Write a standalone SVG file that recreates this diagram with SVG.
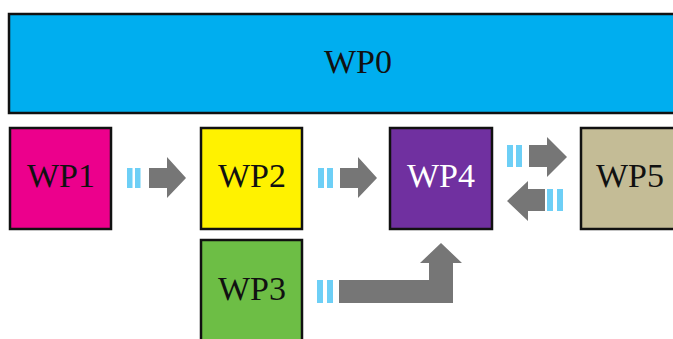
<svg xmlns="http://www.w3.org/2000/svg" width="673" height="339" viewBox="0 0 673 339">
<style>
.box{stroke:#111;stroke-width:2.5}
.lbl{font-family:"Liberation Serif","Times New Roman",serif;font-size:34px;text-anchor:middle;fill:#111}
.bar{fill:#6DCFF6}
.arr{fill:#767676}
</style>
<rect width="673" height="339" fill="#fff"/>
<g id="WP0"><rect class="box" x="9" y="14" width="670" height="99" fill="#00AEEF"/><text class="lbl" x="358" y="73">WP0</text></g>
<g id="WP1"><rect class="box" x="10" y="128" width="101" height="101" fill="#EC008C"/><text class="lbl" x="61" y="187">WP1</text></g>
<g id="WP2"><rect class="box" x="201" y="128" width="101" height="101" fill="#FFF200"/><text class="lbl" x="252" y="187">WP2</text></g>
<g id="WP3"><rect class="box" x="201" y="240" width="101" height="110" fill="#6DBE45"/><text class="lbl" x="252" y="300">WP3</text></g>
<g id="WP4"><rect class="box" x="390" y="128" width="102" height="101" fill="#7030A0"/><text class="lbl" x="441" y="187" fill="#fff" style="fill:#fff">WP4</text></g>
<g id="WP5"><rect class="box" x="581" y="128" width="100" height="101" fill="#C4BC96"/><text class="lbl" x="630" y="187">WP5</text></g>
<g id="connectors">
<rect class="bar" x="127" y="168" width="5.5" height="20"/><rect class="bar" x="135" y="168" width="5.5" height="20"/>
<polygon class="arr" points="149,168 167,168 167,157 186,178 167,198 167,188 149,188"/>
<rect class="bar" x="318" y="168" width="6" height="20"/><rect class="bar" x="327" y="168" width="6" height="20"/>
<polygon class="arr" points="340,168 358,168 358,157 377,178 358,198 358,188 340,188"/>
<rect class="bar" x="507" y="145" width="6" height="22"/><rect class="bar" x="516" y="145" width="6" height="22"/>
<polygon class="arr" points="529,145 547,145 547,137 567,157 547,177 547,167 529,167"/>
<rect class="bar" x="547" y="189" width="6" height="22"/><rect class="bar" x="557" y="189" width="6" height="22"/>
<polygon class="arr" points="545,189 528,189 528,181 507,201 528,221 528,211 545,211"/>
<rect class="bar" x="317" y="280" width="6" height="23"/><rect class="bar" x="327" y="280" width="6" height="23"/>
<polygon class="arr" points="339,280 429,280 429,263 420,263 441,243 462,263 453,263 453,303 339,303"/>
</g>
</svg>
